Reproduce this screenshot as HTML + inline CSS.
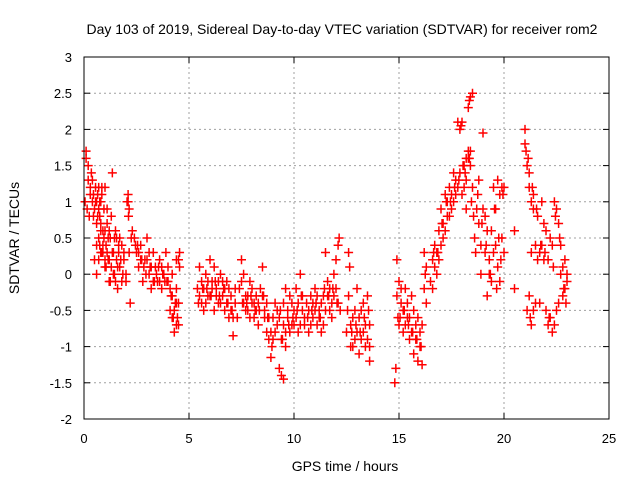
<!DOCTYPE html>
<html><head><meta charset="utf-8"><style>
body{margin:0;background:#fff;}
svg{display:block;font-family:"Liberation Sans",sans-serif;}
</style></head><body>
<svg id="chart" width="640" height="480">
<text x="342" y="34" font-size="14" text-anchor="middle">Day 103 of 2019, Sidereal Day-to-day VTEC variation (SDTVAR) for receiver rom2</text>
<text x="345" y="471" font-size="14" text-anchor="middle">GPS time / hours</text>
<text x="19" y="238" font-size="14" text-anchor="middle" transform="rotate(-90 19 238)">SDTVAR / TECUs</text>
<g id="grid"></g><g id="ticks"></g><g id="marks"></g>
<rect x="84" y="57" width="525" height="362" fill="none" stroke="#000" stroke-width="1"/>
</svg>
<script>
const xTicks=[0,5,10,15,20,25];
const yTicks=[-2,-1.5,-1,-0.5,0,0.5,1,1.5,2,2.5,3];
const yTickLabels=["-2","-1.5","-1","-0.5","0","0.5","1","1.5","2","2.5","3"];
const hours=[0.05,0.1,0.15,0.2,0.25,0.3,0.35,0.4,0.45,0.5,0.55,0.6,0.65,0.7,0.75,0.8,0.85,0.9,0.95,1.0,1.05,1.1,1.15,1.2,1.25,1.3,1.35,1.4,1.45,1.5,1.55,1.6,1.7,1.8,1.9,2.0,2.1,2.15,2.2,2.3,
0.5,0.6,0.7,0.8,0.9,1.0,1.1,1.2,0.55,0.65,0.75,0.85,0.95,1.05,1.15,1.25,1.35,1.45,1.6,1.65,1.75,1.85,2.05,2.12,
2.4,2.5,2.6,2.7,2.8,2.9,3.0,3.1,3.2,3.3,3.4,3.5,3.6,3.7,3.8,3.9,4.0,4.1,4.2,4.3,4.4,4.5,4.45,4.55,4.5,4.2,4.35,2.55,2.75,2.95,3.15,3.35,3.55,3.75,3.95,4.15,4.25,4.4,
5.4,5.5,5.6,5.7,5.8,5.9,6.0,6.1,6.2,6.3,6.4,6.5,6.6,6.7,6.8,6.9,7.0,7.1,7.2,5.45,5.65,5.85,6.05,6.25,6.45,6.65,6.85,7.05,
7.3,7.4,7.5,7.6,7.7,7.8,7.9,8.0,8.1,8.2,8.3,8.4,8.5,8.6,8.7,8.8,8.9,9.0,9.1,9.2,7.55,7.75,7.95,8.15,8.35,8.55,8.75,8.95,
9.3,9.4,9.5,9.6,9.35,9.5,9.6,9.7,9.8,9.9,10.0,10.1,10.2,10.3,10.4,10.5,9.45,9.75,9.95,10.15,10.35,
10.6,10.7,10.8,10.9,11.0,11.1,11.2,11.3,11.4,11.5,11.6,11.7,11.8,11.9,12.0,12.1,12.15,12.2,10.65,10.85,11.05,11.25,11.45,11.65,11.85,12.05,
12.5,12.6,12.65,12.7,12.8,12.9,13.0,13.1,13.2,13.3,13.4,13.5,13.6,13.6,12.75,12.95,13.15,13.35,13.55,
14.8,14.85,14.9,14.95,15.0,15.1,15.2,15.3,15.4,15.5,15.6,15.7,15.8,15.9,16.0,16.1,16.2,16.25,16.3,15.05,15.25,15.45,15.65,15.85,16.05,
16.5,16.6,16.7,16.8,16.9,17.0,17.1,17.2,17.3,17.4,17.5,17.6,17.7,17.8,17.9,18.0,18.05,18.1,18.2,18.3,18.4,18.5,18.3,18.4,18.45,18.2,16.65,16.85,17.05,17.25,17.45,17.65,17.85,18.15,18.35,
18.6,18.7,18.8,18.9,19.0,19.1,19.2,19.3,19.4,19.5,19.6,19.7,19.8,19.9,20.0,19.65,18.75,18.95,19.15,19.35,19.55,19.75,19.95,
20.5,20.5,21.0,21.05,21.1,21.2,21.25,21.3,21.4,21.5,21.6,21.7,21.8,21.9,22.0,22.1,22.2,22.3,22.35,22.4,22.5,22.6,22.7,22.8,22.9,23.0,21.15,21.35,21.55,21.75,21.95,22.15,22.45,22.65,22.85];
const sdtvar=[1.0,1.7,0.9,1.5,0.8,1.2,1.4,1.3,1.1,0.9,1.2,0.7,1.1,0.5,0.8,1.0,0.3,0.6,0.9,0.1,0.4,0.7,0.2,-0.1,0.5,0.8,1.4,0.3,0.0,0.6,0.2,-0.2,0.5,0.4,0.3,-0.1,1.1,0.9,-0.4,0.6,
0.2,0.0,0.9,0.6,0.3,1.2,0.9,0.6,1.0,0.8,0.4,1.1,0.5,0.1,0.5,-0.1,0.3,0.5,0.1,0.4,0.2,0.0,1.0,0.8,
0.5,0.3,0.1,0.4,-0.1,0.2,0.5,0.0,-0.2,0.3,0.1,-0.1,0.2,-0.2,0.0,0.3,-0.1,-0.5,-0.3,-0.8,-0.2,0.2,-0.6,0.3,-0.7,0.0,-0.4,0.4,0.2,0.0,0.1,-0.1,0.1,0.0,-0.1,-0.3,-0.6,-0.4,
-0.2,0.1,-0.4,-0.5,0.0,-0.3,0.2,-0.1,-0.5,-0.2,-0.4,0.0,-0.3,-0.5,-0.1,-0.6,-0.3,-0.85,-0.4,-0.4,-0.2,-0.2,-0.3,-0.1,-0.3,-0.2,-0.4,-0.5,
-0.6,-0.2,0.2,0.0,-0.3,-0.5,-0.1,-0.4,-0.6,-0.3,-0.7,-0.2,0.1,-0.5,-0.8,-0.6,-1.15,-0.9,-0.4,-0.7,-0.4,-0.4,-0.3,-0.5,-0.5,-0.3,-0.6,-1.0,
-1.3,-1.4,-1.45,-1.0,-0.5,-0.7,-0.2,-0.6,-0.8,-0.4,-0.7,-0.2,-0.8,0.0,-0.5,-0.7,-0.9,-0.7,-0.6,-0.5,-0.3,
-0.4,-0.8,-0.3,-0.6,-0.2,-0.7,-0.5,-0.8,-0.3,0.3,-0.1,-0.5,-0.4,0.0,-0.2,0.4,0.5,-0.5,-0.6,-0.5,-0.4,-0.6,-0.2,-0.3,-0.2,-0.4,
-0.8,0.3,0.1,-1.0,-0.6,-0.9,-0.2,-1.1,-0.5,-0.8,-1.0,-0.3,-0.7,-1.2,-0.8,-0.7,-0.8,-0.6,-0.5,
-1.5,-1.3,0.2,-0.6,-0.1,-0.4,-0.8,-0.2,-0.6,-0.9,-0.3,-1.1,-0.7,-1.2,-0.8,-1.25,0.3,0.0,-0.4,-0.6,-0.5,-0.7,-0.8,-0.9,-1.0,
-0.1,0.2,0.4,0.0,0.6,0.9,0.5,1.1,0.8,1.2,0.9,1.4,1.1,2.1,2.0,2.1,1.5,1.2,1.6,2.3,2.45,2.5,1.7,1.5,1.0,0.9,0.3,0.3,0.7,1.0,1.0,1.2,1.3,1.4,1.6,
0.5,0.9,1.3,0.0,1.95,0.8,-0.3,0.2,0.6,1.2,0.4,1.3,-0.1,1.2,0.3,-0.2,1.1,0.7,0.4,0.0,0.9,0.5,1.1,
0.6,-0.2,2.0,1.7,-0.5,1.4,-0.6,0.3,1.1,-0.4,0.8,0.3,1.0,0.2,0.6,-0.7,0.5,-0.8,0.1,1.0,-0.5,0.7,0.0,-0.3,0.2,-0.1,1.6,1.2,0.9,0.4,0.3,-0.6,0.8,0.5,-0.2];
const hoursExtra=[0.1,0.2,0.3,0.4,0.45,0.6,0.7,0.75,0.8,0.85,0.9,1.0,1.1,1.2,1.3,1.4,1.5,1.55,1.65,1.7,1.8,1.9,2.0,2.1,2.15,2.25,0.6,0.7,0.8,1.0,
2.45,2.6,2.7,2.85,3.0,3.1,3.2,3.3,3.45,3.6,3.7,3.85,4.0,4.1,4.2,4.3,4.4,4.5,4.55,4.4,
5.5,5.6,5.7,5.8,5.9,6.0,6.1,6.2,6.3,6.4,6.5,6.6,6.7,6.8,6.9,7.0,7.1,7.2,
7.5,7.6,7.7,7.8,7.9,8.0,8.1,8.2,8.3,8.5,8.6,8.7,8.8,8.9,9.0,9.1,9.2,
9.3,9.4,9.5,9.6,9.7,9.8,9.9,10.0,10.1,10.2,10.3,10.4,10.5,
10.7,10.8,10.9,11.0,11.1,11.2,11.3,11.4,11.5,11.6,11.7,11.8,11.9,12.0,12.1,
12.55,12.6,12.7,12.8,12.9,13.0,13.1,13.2,13.3,13.4,13.5,13.6,
14.9,15.0,15.1,15.2,15.3,15.4,15.5,15.6,15.7,15.8,15.9,16.0,16.1,16.2,16.3,
16.6,16.7,16.8,16.9,17.0,17.1,17.2,17.3,17.4,17.5,17.6,17.7,17.8,17.9,18.0,18.1,18.2,18.3,18.4,18.5,18.55,17.95,18.35,
18.65,18.8,18.9,19.0,19.1,19.2,19.3,19.4,19.5,19.6,19.7,19.8,19.9,20.0,19.85,
21.0,21.1,21.2,21.3,21.4,21.5,21.6,21.2,21.3,21.4,21.7,21.8,21.9,22.0,22.1,22.2,22.3,22.4,22.5,22.6,22.7,22.8,22.9,23.0,22.95];
const sdtvarExtra=[1.6,1.3,1.1,1.0,0.8,1.0,1.2,1.0,0.7,1.2,0.4,0.6,0.3,0.2,0.1,0.0,-0.1,0.5,0.3,0.1,-0.1,0.2,0.0,1.0,0.3,0.5,0.4,0.2,0.3,0.2,
0.4,0.3,0.2,0.1,0.2,0.3,0.1,-0.1,0.0,-0.1,0.1,-0.1,0.1,-0.2,-0.6,-0.5,-0.7,-0.4,0.1,0.2,
-0.3,-0.1,-0.2,-0.4,-0.1,-0.3,-0.2,0.1,-0.3,-0.1,-0.4,-0.1,-0.2,-0.4,-0.2,-0.5,-0.6,-0.2,
-0.1,-0.4,-0.5,-0.3,-0.6,-0.2,-0.4,-0.5,-0.4,-0.3,-0.6,-0.4,-0.9,-0.8,-0.6,-0.8,-0.5,
-0.6,-0.9,-0.4,-0.8,-0.5,-0.3,-0.7,-0.5,-0.6,-0.4,-0.7,-0.3,-0.6,
-0.5,-0.7,-0.4,-0.5,-0.3,-0.6,-0.4,-0.7,-0.5,-0.3,-0.2,-0.6,-0.3,0.2,-0.4,
-0.5,-0.3,-0.7,-1.0,-0.5,-0.8,-0.6,-0.9,-0.4,-0.7,-0.9,-1.0,
-0.3,-0.7,-0.2,-0.5,-0.7,-0.4,-0.6,-0.8,-0.5,-0.9,-0.6,-1.0,-0.7,-0.2,0.1,
-0.2,0.1,0.3,0.2,0.4,0.7,0.6,1.0,0.8,1.1,1.0,1.3,1.2,1.4,1.1,1.5,1.3,1.6,1.7,1.2,0.8,2.05,2.4,
0.3,0.7,0.4,0.9,0.3,0.6,0.0,-0.1,0.3,0.9,0.1,1.1,0.5,1.2,0.2,
1.8,1.5,1.2,1.0,0.9,0.4,0.2,-0.3,-0.7,-0.5,-0.4,0.4,0.7,-0.5,0.2,-0.6,0.4,-0.7,0.9,-0.4,0.4,0.1,-0.2,0.0,-0.4];
const NS="http://www.w3.org/2000/svg";
const X0=84,X1=609,Y0=419,Y1=57;
function xScale(h){return X0+(h-0)/(25-0)*(X1-X0);}
function yScale(v){return Y0-(v-(-2))/(3-(-2))*(Y0-Y1);}
const grid=document.getElementById('grid'),ticks=document.getElementById('ticks'),marks=document.getElementById('marks');
function mk(tag,attrs,parent){const e=document.createElementNS(NS,tag);for(const k in attrs)e.setAttribute(k,attrs[k]);parent.appendChild(e);return e;}
xTicks.forEach(t=>{
  const x=xScale(t);
  if(t>0&&t<25){const g=mk('line',{x1:x,x2:x,y1:Y1,y2:Y0,stroke:'#a0a0a0','stroke-dasharray':'2,3'},grid);
  
  }
  mk('line',{x1:x,x2:x,y1:Y0,y2:Y0-6,stroke:'#000'},ticks);
  mk('line',{x1:x,x2:x,y1:Y1,y2:Y1+6,stroke:'#000'},ticks);
  const l=mk('text',{x:x,y:443,'font-size':13,'text-anchor':'middle'},ticks);l.textContent=t;
  
  
});
yTicks.forEach((t,i)=>{
  const y=yScale(t);
  if(t>-2&&t<3){const g=mk('line',{x1:X0,x2:X1,y1:y,y2:y,stroke:'#a0a0a0','stroke-dasharray':'2,3'},grid);
  
  }
  mk('line',{x1:X0,x2:X0+6,y1:y,y2:y,stroke:'#000'},ticks);
  mk('line',{x1:X1,x2:X1-6,y1:y,y2:y,stroke:'#000'},ticks);
  const l=mk('text',{x:72,y:y+5,'font-size':13,'text-anchor':'end'},ticks);l.textContent=yTickLabels[i];
  
  
});
function plotPoints(hs,vs){
  hs.forEach((h,i)=>{
    const x=xScale(h),y=yScale(vs[i]);
    const p=mk('path',{d:`M${x-4.5},${y}H${x+4.5}M${x},${y-4.5}V${y+4.5}`,stroke:'#f00','stroke-width':1.5},marks);
    
    
  });
}
plotPoints(hours,sdtvar);
plotPoints(hoursExtra,sdtvarExtra);
</script>
</body></html>
